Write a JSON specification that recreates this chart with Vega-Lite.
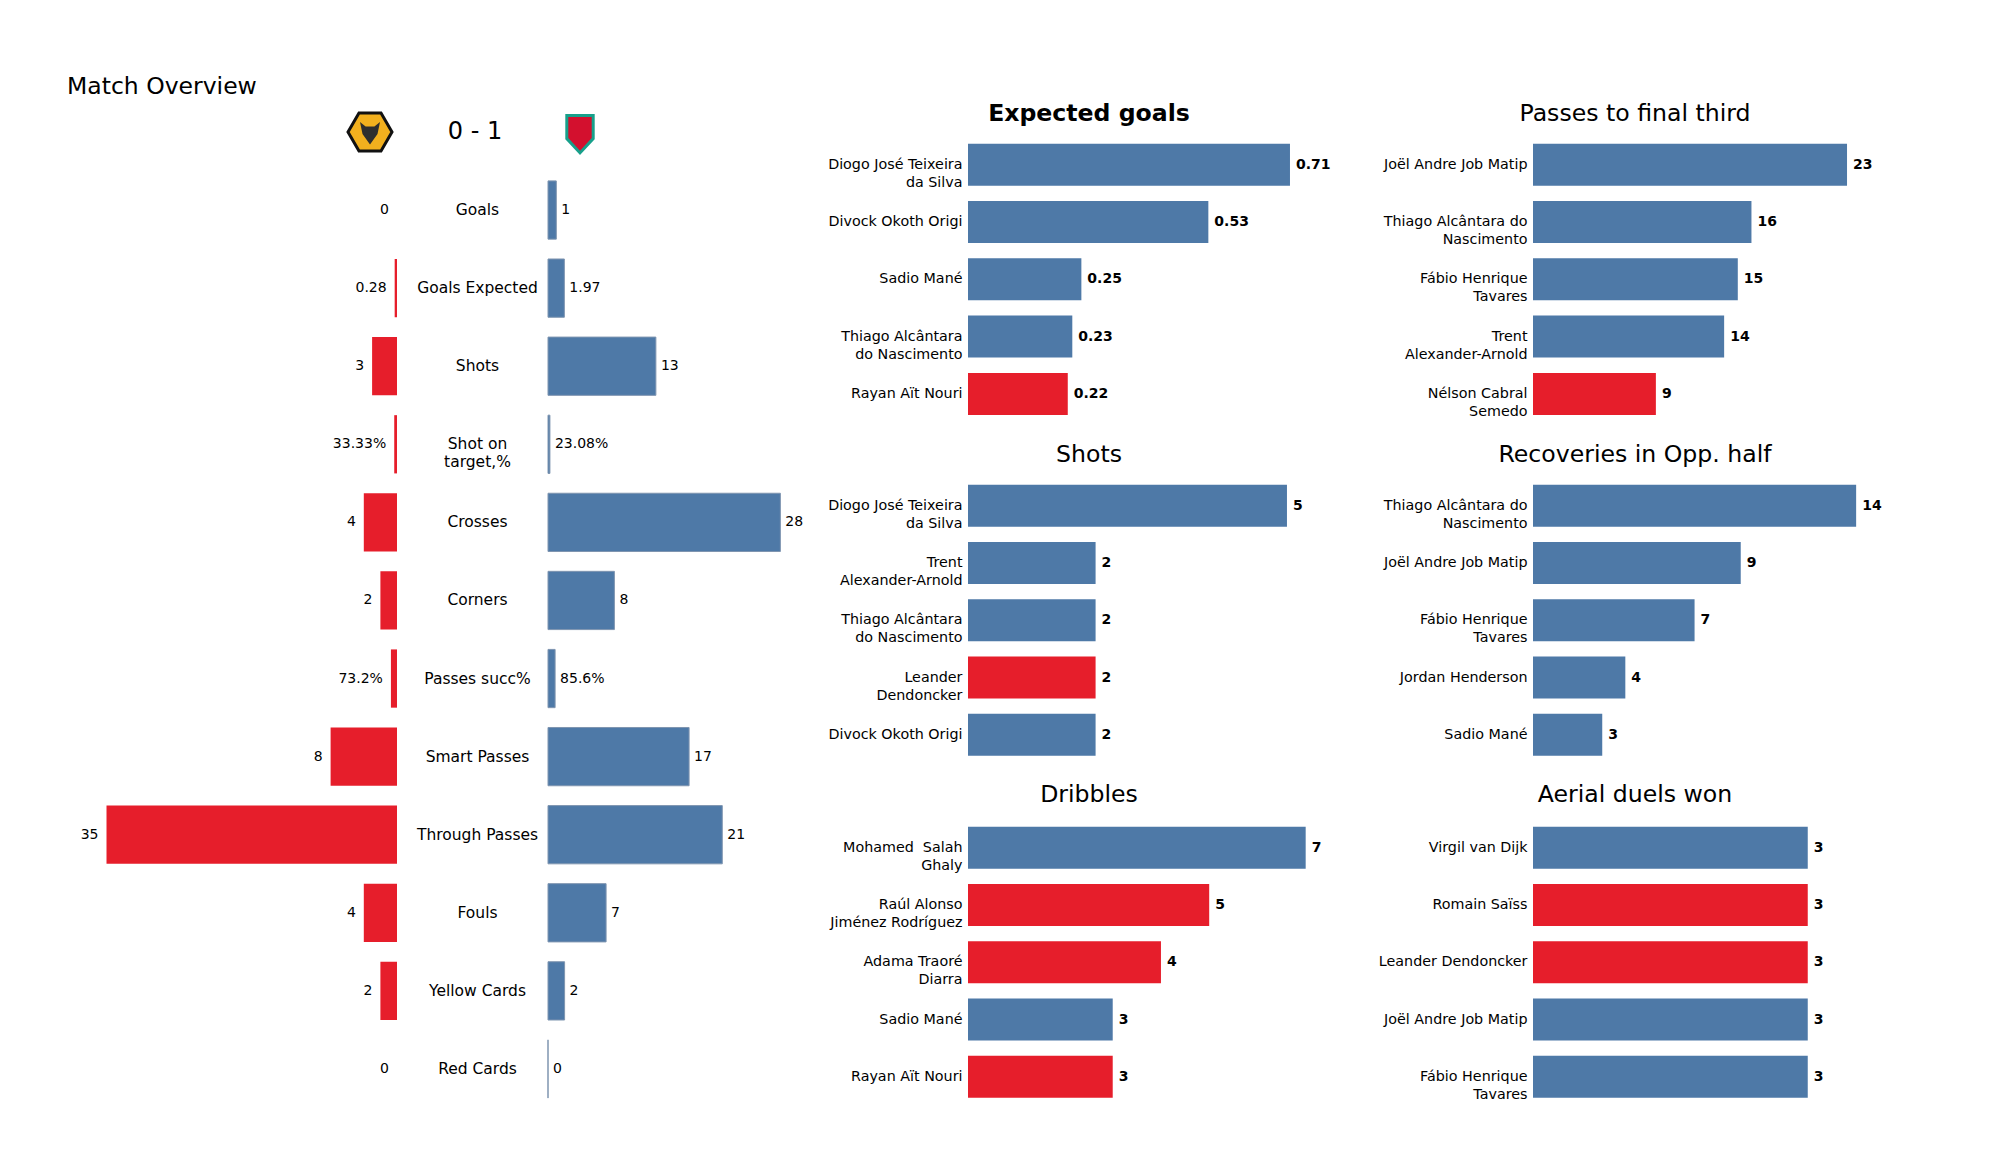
{
  "$schema": "https://vega.github.io/schema/vega-lite/v6.json",
  "background": "white",
  "padding": {"left": 67, "top": 75, "right": 5, "bottom": 5},
  "autosize": {"type": "pad"},
  "spacing": 12,
  "title": {"text": "Match Overview", "anchor": "start", "offset": 3.4, "fontSize": 23.5},
  "config": {
    "view": {"stroke": null},
    "font": "DejaVu Sans",
    "title": {"font": "DejaVu Sans", "fontSize": 23.6, "fontWeight": "normal", "color": "#000000", "baseline": "middle"},
    "text": {"font": "DejaVu Sans", "color": "#000000"}
  },
  "datasets": {
    "overview": [
      {"stat": "Goals", "wolves": 0, "liverpool": 1, "wolvesLabel": "0", "liverpoolLabel": "1"},
      {"stat": "Goals Expected", "wolves": 0.28, "liverpool": 1.97, "wolvesLabel": "0.28", "liverpoolLabel": "1.97"},
      {"stat": "Shots", "wolves": 3, "liverpool": 13, "wolvesLabel": "3", "liverpoolLabel": "13"},
      {"stat": "Shot on\ntarget,%", "wolves": 0.3333, "liverpool": 0.2308, "wolvesLabel": "33.33%", "liverpoolLabel": "23.08%"},
      {"stat": "Crosses", "wolves": 4, "liverpool": 28, "wolvesLabel": "4", "liverpoolLabel": "28"},
      {"stat": "Corners", "wolves": 2, "liverpool": 8, "wolvesLabel": "2", "liverpoolLabel": "8"},
      {"stat": "Passes succ%", "wolves": 0.732, "liverpool": 0.856, "wolvesLabel": "73.2%", "liverpoolLabel": "85.6%"},
      {"stat": "Smart Passes", "wolves": 8, "liverpool": 17, "wolvesLabel": "8", "liverpoolLabel": "17"},
      {"stat": "Through Passes", "wolves": 35, "liverpool": 21, "wolvesLabel": "35", "liverpoolLabel": "21"},
      {"stat": "Fouls", "wolves": 4, "liverpool": 7, "wolvesLabel": "4", "liverpoolLabel": "7"},
      {"stat": "Yellow Cards", "wolves": 2, "liverpool": 2, "wolvesLabel": "2", "liverpoolLabel": "2"},
      {"stat": "Red Cards", "wolves": 0, "liverpool": 0, "wolvesLabel": "0", "liverpoolLabel": "0"}
    ],
    "header": [
      {"slot": "Wolves", "label": ""},
      {"slot": "score", "label": "0 - 1"},
      {"slot": "Liverpool", "label": ""}
    ]
  },
  "hconcat": [
    {
      "spacing": 9,
      "vconcat": [
        {
          "width": 741,
          "height": 60,
          "data": {"name": "header"},
          "encoding": {
            "x": {"field": "slot", "type": "nominal", "axis": null,
                  "scale": {"type": "point", "domain": ["Wolves", "score", "Liverpool"], "range": [303, 513], "padding": 0}}
          },
          "layer": [
            {
              "transform": [{"filter": "datum.slot == 'Wolves'"}],
              "mark": {"type": "point", "shape": "M-1,0L-0.5,-0.866L0.5,-0.866L1,0L0.5,0.866L-0.5,0.866Z", "filled": true, "fill": "#f2b01e", "stroke": "#111111", "strokeWidth": 3, "size": 1936, "opacity": 1}
            },
            {
              "transform": [{"filter": "datum.slot == 'Wolves'"}],
              "mark": {"type": "point", "shape": "M-0.8,-0.8L-0.35,-0.45L0.35,-0.45L0.8,-0.8L0.6,0.15L0,1L-0.6,0.15Z", "filled": true, "fill": "#2e2e2e", "size": 625, "opacity": 1}
            },
            {
              "transform": [{"filter": "datum.slot == 'Liverpool'"}],
              "mark": {"type": "point", "shape": "M-0.6,-0.75L0.6,-0.75L0.6,0.3L0,0.95L-0.6,0.3Z", "filled": true, "fill": "#d3102e", "stroke": "#17a08b", "strokeWidth": 3, "size": 1936, "opacity": 1}
            },
            {
              "mark": {"type": "text", "fontSize": 24, "font": "DejaVu Sans", "color": "#000000"},
              "encoding": {"text": {"field": "label"}}
            }
          ]
        },
        {
          "bounds": "flush",
          "spacing": 151,
          "hconcat": [
            {
              "width": 330,
              "height": 937,
              "data": {"name": "overview"},
              "encoding": {
                "y": {"field": "stat", "type": "nominal", "sort": null, "axis": null,
                      "scale": {"paddingInner": 0.254, "paddingOuter": 0.127}},
                "x": {"field": "wolves", "type": "quantitative", "axis": null,
                      "scale": {"domain": [0, 39.76], "reverse": true}}
              },
              "layer": [
                {"mark": {"type": "bar", "color": "#e61e2b"}},
                {"mark": {"type": "text", "align": "right", "dx": -8, "fontSize": 14},
                 "encoding": {"text": {"field": "wolvesLabel"}}}
              ]
            },
            {
              "width": 260,
              "height": 937,
              "data": {"name": "overview"},
              "encoding": {
                "y": {"field": "stat", "type": "nominal", "sort": null,
                      "scale": {"paddingInner": 0.254, "paddingOuter": 0.127},
                      "axis": {"title": null, "ticks": false, "tickSize": 0, "domain": false,
                               "labelAlign": "center", "labelPadding": 71, "labelFontSize": 15.5,
                               "labelFont": "DejaVu Sans", "labelColor": "#000000", "labelLimit": 400,
                               "labelLineHeight": 18, "labelExpr": "split(datum.label, '\\n')"}},
                "x": {"field": "liverpool", "type": "quantitative", "axis": null,
                      "scale": {"domain": [0, 31.33]}}
              },
              "layer": [
                {"mark": {"type": "bar", "color": "#4e79a7", "stroke": "#7f95b0", "strokeWidth": 1}},
                {"mark": {"type": "text", "align": "left", "dx": 5, "fontSize": 14},
                 "encoding": {"text": {"field": "liverpoolLabel"}}}
              ]
            }
          ]
        }
      ]
    },
    {
      "spacing": 19,
      "vconcat": [
        {
          "bounds": "flush",
          "spacing": 195,
          "hconcat": [
            {
              "width": 370,
              "height": 320.5,
              "title": {"text": "Expected goals", "fontWeight": "bold", "dx": -64, "offset": -23.7},
              "data": {"values": [
                {"player": "Diogo José Teixeira\nda Silva", "value": 0.71, "team": "Liverpool"},
                {"player": "Divock Okoth Origi", "value": 0.53, "team": "Liverpool"},
                {"player": "Sadio Mané", "value": 0.25, "team": "Liverpool"},
                {"player": "Thiago Alcântara\ndo Nascimento", "value": 0.23, "team": "Liverpool"},
                {"player": "Rayan Aït Nouri", "value": 0.22, "team": "Wolves"}
              ]},
              "encoding": {
                "y": {"field": "player", "type": "nominal", "sort": null,
                      "scale": {"paddingInner": 0.267, "paddingOuter": 0.4302, "align": 0.846},
                      "axis": {"title": null, "ticks": false, "tickSize": 0, "domain": false, "minExtent": 148, "labelPadding": 6, "labelFontSize": 14.3, "labelFont": "DejaVu Sans", "labelColor": "#000000", "labelLimit": 400, "labelLineHeight": 18, "labelExpr": "split(datum.label, '\\n')"}},
                "x": {"field": "value", "type": "quantitative", "axis": null, "scale": {"domain": [0, 0.8159]}}
              },
              "layer": [
                {"mark": {"type": "bar"},
                 "encoding": {"color": {"field": "team", "type": "nominal", "legend": null, "scale": {"domain": ["Liverpool", "Wolves"], "range": ["#4e79a7", "#e61e2b"]}}}},
                {"mark": {"type": "text", "align": "left", "dx": 6, "fontSize": 14, "fontWeight": "bold"},
                 "encoding": {"text": {"field": "value", "type": "quantitative"}}}
              ]
            },
            {
              "width": 370,
              "height": 320.5,
              "title": {"text": "Passes to final third", "dx": -83, "offset": -23.7},
              "data": {"values": [
                {"player": "Joël Andre Job Matip", "value": 23, "team": "Liverpool"},
                {"player": "Thiago Alcântara do\nNascimento", "value": 16, "team": "Liverpool"},
                {"player": "Fábio Henrique\nTavares", "value": 15, "team": "Liverpool"},
                {"player": "Trent\nAlexander-Arnold", "value": 14, "team": "Liverpool"},
                {"player": "Nélson Cabral\nSemedo", "value": 9, "team": "Wolves"}
              ]},
              "encoding": {
                "y": {"field": "player", "type": "nominal", "sort": null,
                      "scale": {"paddingInner": 0.267, "paddingOuter": 0.4302, "align": 0.846},
                      "axis": {"title": null, "ticks": false, "tickSize": 0, "domain": false, "labelPadding": 6, "labelFontSize": 14.3, "labelFont": "DejaVu Sans", "labelColor": "#000000", "labelLimit": 400, "labelLineHeight": 18, "labelExpr": "split(datum.label, '\\n')"}},
                "x": {"field": "value", "type": "quantitative", "axis": null, "scale": {"domain": [0, 27.1]}}
              },
              "layer": [
                {"mark": {"type": "bar"},
                 "encoding": {"color": {"field": "team", "type": "nominal", "legend": null, "scale": {"domain": ["Liverpool", "Wolves"], "range": ["#4e79a7", "#e61e2b"]}}}},
                {"mark": {"type": "text", "align": "left", "dx": 6, "fontSize": 14, "fontWeight": "bold"},
                 "encoding": {"text": {"field": "value", "type": "quantitative"}}}
              ]
            }
          ]
        },
        {
          "bounds": "flush",
          "spacing": 195,
          "hconcat": [
            {
              "width": 370,
              "height": 286.5,
              "title": {"text": "Shots", "dx": -64, "offset": 10.9},
              "data": {"values": [
                {"player": "Diogo José Teixeira\nda Silva", "value": 5, "team": "Liverpool"},
                {"player": "Trent\nAlexander-Arnold", "value": 2, "team": "Liverpool"},
                {"player": "Thiago Alcântara\ndo Nascimento", "value": 2, "team": "Liverpool"},
                {"player": "Leander\nDendoncker", "value": 2, "team": "Wolves"},
                {"player": "Divock Okoth Origi", "value": 2, "team": "Liverpool"}
              ]},
              "encoding": {
                "y": {"field": "player", "type": "nominal", "sort": null,
                      "scale": {"paddingInner": 0.267, "paddingOuter": 0.1335},
                      "axis": {"title": null, "ticks": false, "tickSize": 0, "domain": false, "minExtent": 148, "labelPadding": 6, "labelFontSize": 14.3, "labelFont": "DejaVu Sans", "labelColor": "#000000", "labelLimit": 400, "labelLineHeight": 18, "labelExpr": "split(datum.label, '\\n')"}},
                "x": {"field": "value", "type": "quantitative", "axis": null, "scale": {"domain": [0, 5.8]}}
              },
              "layer": [
                {"mark": {"type": "bar"},
                 "encoding": {"color": {"field": "team", "type": "nominal", "legend": null, "scale": {"domain": ["Liverpool", "Wolves"], "range": ["#4e79a7", "#e61e2b"]}}}},
                {"mark": {"type": "text", "align": "left", "dx": 6, "fontSize": 14, "fontWeight": "bold"},
                 "encoding": {"text": {"field": "value", "type": "quantitative"}}}
              ]
            },
            {
              "width": 370,
              "height": 286.5,
              "title": {"text": "Recoveries in Opp. half", "dx": -83, "offset": 10.9},
              "data": {"values": [
                {"player": "Thiago Alcântara do\nNascimento", "value": 14, "team": "Liverpool"},
                {"player": "Joël Andre Job Matip", "value": 9, "team": "Liverpool"},
                {"player": "Fábio Henrique\nTavares", "value": 7, "team": "Liverpool"},
                {"player": "Jordan Henderson", "value": 4, "team": "Liverpool"},
                {"player": "Sadio Mané", "value": 3, "team": "Liverpool"}
              ]},
              "encoding": {
                "y": {"field": "player", "type": "nominal", "sort": null,
                      "scale": {"paddingInner": 0.267, "paddingOuter": 0.1335},
                      "axis": {"title": null, "ticks": false, "tickSize": 0, "domain": false, "labelPadding": 6, "labelFontSize": 14.3, "labelFont": "DejaVu Sans", "labelColor": "#000000", "labelLimit": 400, "labelLineHeight": 18, "labelExpr": "split(datum.label, '\\n')"}},
                "x": {"field": "value", "type": "quantitative", "axis": null, "scale": {"domain": [0, 16.03]}}
              },
              "layer": [
                {"mark": {"type": "bar"},
                 "encoding": {"color": {"field": "team", "type": "nominal", "legend": null, "scale": {"domain": ["Liverpool", "Wolves"], "range": ["#4e79a7", "#e61e2b"]}}}},
                {"mark": {"type": "text", "align": "left", "dx": 6, "fontSize": 14, "fontWeight": "bold"},
                 "encoding": {"text": {"field": "value", "type": "quantitative"}}}
              ]
            }
          ]
        },
        {
          "bounds": "flush",
          "spacing": 195,
          "hconcat": [
            {
              "width": 370,
              "height": 286.5,
              "title": {"text": "Dribbles", "dx": -64, "offset": 12.1},
              "data": {"values": [
                {"player": "Mohamed\u00a0 Salah\nGhaly", "value": 7, "team": "Liverpool"},
                {"player": "Raúl Alonso\nJiménez Rodríguez", "value": 5, "team": "Wolves"},
                {"player": "Adama Traoré\nDiarra", "value": 4, "team": "Wolves"},
                {"player": "Sadio Mané", "value": 3, "team": "Liverpool"},
                {"player": "Rayan Aït Nouri", "value": 3, "team": "Wolves"}
              ]},
              "encoding": {
                "y": {"field": "player", "type": "nominal", "sort": null,
                      "scale": {"paddingInner": 0.267, "paddingOuter": 0.1335},
                      "axis": {"title": null, "ticks": false, "tickSize": 0, "domain": false, "minExtent": 148, "labelPadding": 6, "labelFontSize": 14.3, "labelFont": "DejaVu Sans", "labelColor": "#000000", "labelLimit": 400, "labelLineHeight": 18, "labelExpr": "split(datum.label, '\\n')"}},
                "x": {"field": "value", "type": "quantitative", "axis": null, "scale": {"domain": [0, 7.67]}}
              },
              "layer": [
                {"mark": {"type": "bar"},
                 "encoding": {"color": {"field": "team", "type": "nominal", "legend": null, "scale": {"domain": ["Liverpool", "Wolves"], "range": ["#4e79a7", "#e61e2b"]}}}},
                {"mark": {"type": "text", "align": "left", "dx": 6, "fontSize": 14, "fontWeight": "bold"},
                 "encoding": {"text": {"field": "value", "type": "quantitative"}}}
              ]
            },
            {
              "width": 370,
              "height": 286.5,
              "title": {"text": "Aerial duels won", "dx": -83, "offset": 12.1},
              "data": {"values": [
                {"player": "Virgil van Dijk", "value": 3, "team": "Liverpool"},
                {"player": "Romain Saïss", "value": 3, "team": "Wolves"},
                {"player": "Leander Dendoncker", "value": 3, "team": "Wolves"},
                {"player": "Joël Andre Job Matip", "value": 3, "team": "Liverpool"},
                {"player": "Fábio Henrique\nTavares", "value": 3, "team": "Liverpool"}
              ]},
              "encoding": {
                "y": {"field": "player", "type": "nominal", "sort": null,
                      "scale": {"paddingInner": 0.267, "paddingOuter": 0.1335},
                      "axis": {"title": null, "ticks": false, "tickSize": 0, "domain": false, "labelPadding": 6, "labelFontSize": 14.3, "labelFont": "DejaVu Sans", "labelColor": "#000000", "labelLimit": 400, "labelLineHeight": 18, "labelExpr": "split(datum.label, '\\n')"}},
                "x": {"field": "value", "type": "quantitative", "axis": null, "scale": {"domain": [0, 4.04]}}
              },
              "layer": [
                {"mark": {"type": "bar"},
                 "encoding": {"color": {"field": "team", "type": "nominal", "legend": null, "scale": {"domain": ["Liverpool", "Wolves"], "range": ["#4e79a7", "#e61e2b"]}}}},
                {"mark": {"type": "text", "align": "left", "dx": 6, "fontSize": 14, "fontWeight": "bold"},
                 "encoding": {"text": {"field": "value", "type": "quantitative"}}}
              ]
            }
          ]
        }
      ]
    }
  ]
}
